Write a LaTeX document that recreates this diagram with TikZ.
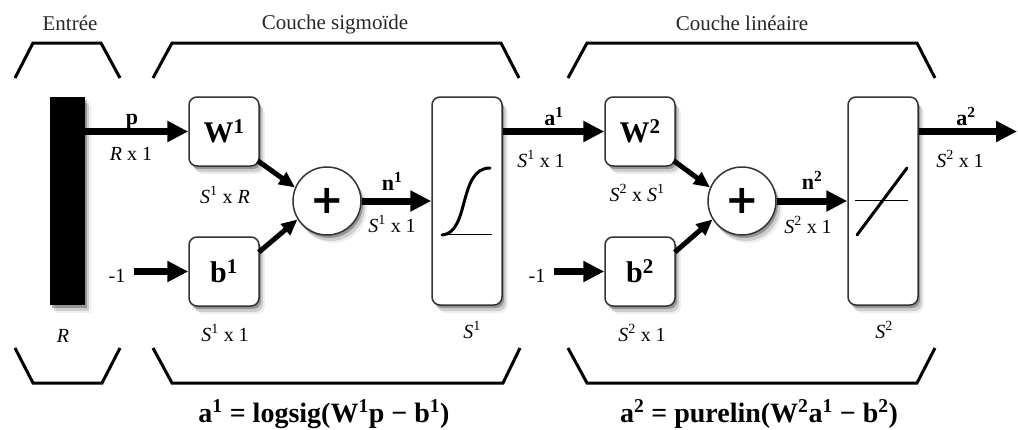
\documentclass[tikz,border=0pt]{standalone}
\usepackage{fontspec}
\setmainfont{Liberation Serif}
\newfontfamily\plusfont{DejaVu Sans}
\usetikzlibrary{arrows.meta,shadows}
\tikzset{
  softshadow/.style={
    general shadow={shadow xshift=2pt,shadow yshift=-3pt,fill=black,opacity=.28},
    general shadow={shadow xshift=4pt,shadow yshift=-6pt,fill=black,opacity=.14},
    general shadow={shadow xshift=6pt,shadow yshift=-8pt,fill=black,opacity=.06}},
  box/.style={draw=black!80, line width=1.5pt, fill=white, rounded corners=8pt,
    minimum width=70pt, minimum height=69pt, inner sep=0pt, softshadow,
    font=\bfseries\fontsize{30}{30}\selectfont},
  tallbox/.style={box, minimum height=208pt},
  sumc/.style={circle, draw=black!80, line width=1.5pt, fill=white, minimum size=68pt,
    inner sep=0pt, softshadow, font=\plusfont\bfseries\fontsize{40}{40}\selectfont},
  lbl/.style={font=\fontsize{20}{20}\selectfont, inner sep=0pt, anchor=base},
  blbl/.style={font=\bfseries\fontsize{22}{22}\selectfont, inner sep=0pt, anchor=base},
  title/.style={font=\fontsize{21}{21}\selectfont, inner sep=0pt, anchor=base, text=black!85},
  eq/.style={font=\bfseries\fontsize{28}{28}\selectfont, inner sep=0pt, anchor=base},
  brk/.style={line width=3pt, line join=miter},
  arr/.style={line width=7pt, -{Triangle[length=21pt,width=20pt]}},
  darr/.style={line width=5pt, -{Triangle[length=16pt,width=14pt]}},
  curve/.style={line width=3pt, line cap=round},
  axisline/.style={line width=1pt}
}
\begin{document}
\begin{tikzpicture}[x=1pt,y=-1pt]
\useasboundingbox (0,0) rectangle (1018,429);

% titles
\node[title] (tin) at (70,30) {Entrée};
\node[title] (tsig) at (335,29) {Couche sigmoïde};
\node[title] (tlin) at (742,30) {Couche linéaire};

% brackets (top)
\draw[brk] (15,78) -- (33,43) -- (101,43) -- (120,78);
\draw[brk] (153,78) -- (172,43) -- (501,43) -- (519,78);
\draw[brk] (568,78) -- (587,43) -- (917,43) -- (935,78);
% brackets (bottom)
\draw[brk] (15,348) -- (33,383) -- (102,383) -- (120,348);
\draw[brk] (153,348) -- (172,383) -- (503,383) -- (520,348);
\draw[brk] (568,348) -- (587,383) -- (917,383) -- (935,348);

% input bar
\node[fill=black, minimum width=35pt, minimum height=208pt, inner sep=0pt, softshadow] (bar) at (67.5,201) {};
\node[lbl] (rlab) at (63,342) {\textit{R}};

% layer 1
\node[box] (W1) at (224,131.5) {W\textsuperscript{1}};
\node[box] (b1) at (224,271.5) {b\textsuperscript{1}};
\node[sumc] (sum1) at (327,201) {+};
\node[tallbox] (sig) at (467,201) {};
\draw[axisline] (442,234) -- (492,234);
\draw[curve] (442,235) .. controls (470,233) and (458,168) .. (490,168);

\node[lbl] (m1) at (117,282) {-1};
\draw[arr] (bar.east |- W1.west) -- (W1.west);
\draw[arr, shorten <=8pt] (m1.east |- b1.west) -- (b1.west);
\draw[darr] ([xshift=-2pt,yshift=6pt]W1.south east) -- (sum1.157);
\draw[darr] ([xshift=-1pt,yshift=-16pt]b1.north east) -- (sum1.-148);
\draw[arr] (sum1.east) -- (sig.west);

\node[blbl] (plab) at (132,124) {p};
\node[lbl] (pdim) at (131,160) {\textit{R} x 1};
\node[lbl] (w1dim) at (225,203) {\textit{S}\textsuperscript{1} x \textit{R}};
\node[lbl] (b1dim) at (225,341) {\textit{S}\textsuperscript{1} x 1};
\node[blbl] (n1lab) at (392,190) {n\textsuperscript{1}};
\node[lbl] (n1dim) at (392,232) {\textit{S}\textsuperscript{1} x 1};
\node[lbl] (s1lab) at (472,338) {\textit{S}\textsuperscript{1}};

% layer 2
\node[box] (W2) at (640,131.5) {W\textsuperscript{2}};
\node[box] (b2) at (640,271.5) {b\textsuperscript{2}};
\node[sumc] (sum2) at (742,201) {+};
\node[tallbox] (lin) at (883,201) {};
\draw[axisline] (855,200) -- (908,200);
\draw[curve] (857,235) -- (907,168);

\node[lbl] (m2) at (537,282) {-1};
\draw[arr] (sig.east |- W2.west) -- (W2.west);
\draw[arr, shorten <=8pt] (m2.east |- b2.west) -- (b2.west);
\draw[darr] ([xshift=-2pt,yshift=6pt]W2.south east) -- (sum2.157);
\draw[darr] ([xshift=-1pt,yshift=-16pt]b2.north east) -- (sum2.-148);
\draw[arr] (sum2.east) -- (lin.west);
\coordinate (out) at (1017,131.5);
\draw[arr] (lin.east |- out) -- (out);

\node[blbl] (a1lab) at (554,125) {a\textsuperscript{1}};
\node[lbl] (a1dim) at (541,167) {\textit{S}\textsuperscript{1} x 1};
\node[lbl] (w2dim) at (637,201) {\textit{S}\textsuperscript{2} x \textit{S}\textsuperscript{1}};
\node[lbl] (b2dim) at (642,341) {\textit{S}\textsuperscript{2} x 1};
\node[blbl] (n2lab) at (812,189) {n\textsuperscript{2}};
\node[lbl] (n2dim) at (808,233) {\textit{S}\textsuperscript{2} x 1};
\node[lbl] (s2lab) at (884,338) {\textit{S}\textsuperscript{2}};
\node[blbl] (a2lab) at (966,125) {a\textsuperscript{2}};
\node[lbl] (a2dim) at (960,167) {\textit{S}\textsuperscript{2} x 1};

% equations
\node[eq] (eq1) at (324,422) {a\textsuperscript{1} = logsig(W\textsuperscript{1}p − b\textsuperscript{1})};
\node[eq] (eq2) at (759,422) {a\textsuperscript{2} = purelin(W\textsuperscript{2}a\textsuperscript{1} − b\textsuperscript{2})};
\end{tikzpicture}
\end{document}
